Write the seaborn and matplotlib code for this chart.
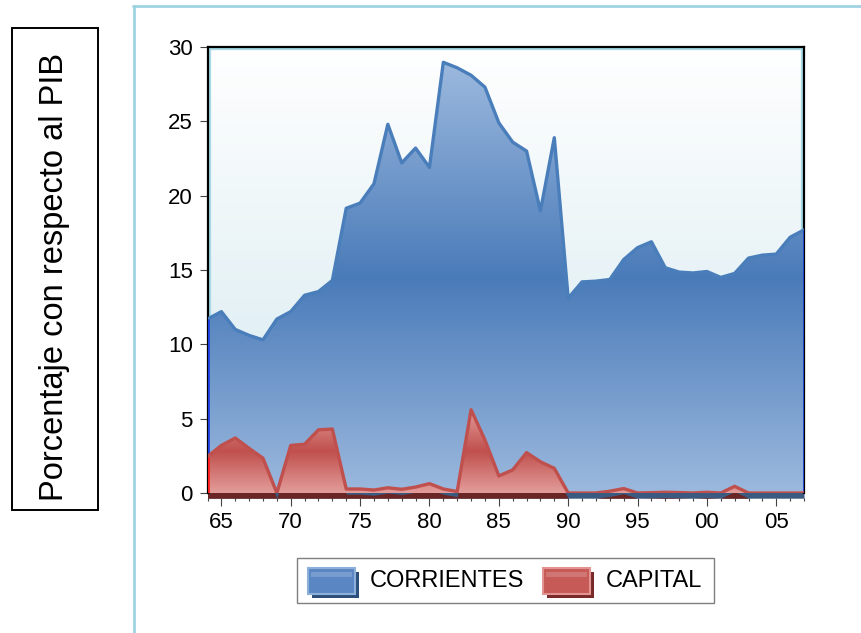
import numpy as np
import pandas as pd
import matplotlib
matplotlib.use("Agg")
import matplotlib.pyplot as plt
from matplotlib.colors import LinearSegmentedColormap
from matplotlib.patches import Rectangle
from matplotlib.lines import Line2D
from matplotlib import transforms
import seaborn as sns

# ---- data: public spending, % of GDP ----
years = list(range(1964, 2008))
corrientes = [11.7, 12.2, 11.0, 10.6, 10.3, 11.7, 12.2, 13.3, 13.55, 14.3,
              19.15, 19.5, 20.8, 24.8, 22.2, 23.2, 21.9, 28.97, 28.6, 28.1,
              27.3, 24.9, 23.6, 23.0, 18.97, 23.9, 13.1, 14.2, 14.25, 14.36,
              15.7, 16.5, 16.9, 15.15, 14.86, 14.8, 14.9, 14.5, 14.77, 15.8,
              16.0, 16.07, 17.2, 17.7]
capital = [2.45, 3.2, 3.7, 3.0, 2.34, 0.0, 3.2, 3.28, 4.25, 4.3,
           0.27, 0.27, 0.2, 0.35, 0.25, 0.4, 0.63, 0.27, 0.1, 5.6,
           3.57, 1.15, 1.55, 2.72, 2.1, 1.66, 0.0, 0.0, 0.0, 0.12,
           0.3, 0.0, 0.02, 0.05, 0.03, 0.0, 0.05, 0.0, 0.45, 0.0,
           0.0, 0.0, 0.0, 0.0]
series_names = ["CORRIENTES", "CAPITAL"]
xtick_years = list(range(1965, 2006, 5))
xtick_labels = ["65", "70", "75", "80", "85", "90", "95", "00", "05"]
yticks = [0, 5, 10, 15, 20, 25, 30]
ylabel_text = "Porcentaje con respecto al PIB"

sns.set_theme(style="white")
plt.rcParams['font.family'] = ['Liberation Sans', 'DejaVu Sans']

W, H = 861, 633
fig = plt.figure(figsize=(W / 100, H / 100), dpi=100)
fig.patch.set_facecolor('white')

L, R, T, B = 207.5, 804, 47, 493
ax = fig.add_axes([L / W, 1 - B / H, (R - L) / W, (B - T) / H])
ax.patch.set_facecolor('none')

x = np.array(years, dtype=float)
yc = np.array(corrientes)
yk = np.array(capital)

# plot-area background: white to pale cyan
bg_cmap = LinearSegmentedColormap.from_list('bg', ['#d3e8ef', '#ffffff'])
ax.imshow(np.linspace(0, 1, 256).reshape(-1, 1), cmap=bg_cmap,
          extent=[1964, 2007, 0, 30], origin='lower', aspect='auto',
          interpolation='bilinear', zorder=0)


def gradient_area(xv, yv, light, dark, z):
    poly = ax.fill_between(xv, yv, 0, facecolor='none', edgecolor='none', zorder=z)
    cmap = LinearSegmentedColormap.from_list('g', [light, dark, light])
    im = ax.imshow(np.linspace(0, 1, 256).reshape(-1, 1), cmap=cmap,
                   extent=[xv[0], xv[-1], 0, yv.max()], origin='lower',
                   aspect='auto', interpolation='bilinear', zorder=z)
    im.set_clip_path(poly.get_paths()[0], transform=ax.transData)


# depth strip under the baseline
dy = 0.35
for vals, col, z in [(yc, '#3b5a82', 2.0), (yk, '#6a2625', 2.1)]:
    sh = ax.fill_between(x, vals - dy, -dy, color=col, lw=0, zorder=z)
    sh.set_clip_path(Rectangle((1964, -dy), 43, dy, transform=ax.transData))

gradient_area(x, yc, '#9cb9de', '#4a7bb9', 3)
df_c = pd.DataFrame({"year": x, "value": yc})
sns.lineplot(data=df_c, x="year", y="value", color='#4a7ebb', lw=2.4,
             zorder=4, ax=ax, legend=False)
ax.vlines([1964], 0, yc[0], color='#2040e0', lw=2, zorder=4.5)
ax.vlines([2007], 0, yc[-1], color='#1c3cc8', lw=2, zorder=4.5)

gradient_area(x, yk, '#e39d9b', '#c0504d', 5)
df_k = pd.DataFrame({"year": x, "value": yk})
sns.lineplot(data=df_k, x="year", y="value", color='#c0504d', lw=2.4,
             zorder=6, ax=ax, legend=False)
ax.vlines([1964], 0, yk[0], color='#ff2020', lw=2, zorder=6.5)

ax.set_xlim(1964, 2007)
ax.set_ylim(0, 30)
ax.set_xlabel("")
ax.set_ylabel("")

ax.set_xticks(xtick_years)
ax.set_xticklabels(xtick_labels)
ax.set_xticks(years, minor=True)
ax.set_yticks(yticks)
ax.set_yticklabels([str(v) for v in yticks])
ax.tick_params(axis='x', which='major', bottom=True, length=5.8, width=0.8,
               color='#444444', pad=4, labelsize=16, labelcolor='black')
ax.tick_params(axis='x', which='minor', bottom=True, length=2.3, width=0.8,
               color='#444444')
ax.tick_params(axis='y', which='major', left=True, length=5.5, width=0.8,
               color='#444444', pad=5, labelsize=16, labelcolor='black')
ax.tick_params(axis='y', which='minor', left=False)

for side in ['left', 'top', 'right']:
    ax.spines[side].set_visible(True)
    ax.spines[side].set_color('black')
    ax.spines[side].set_linewidth(1.6)
    ax.spines[side].set_zorder(2.5)
ax.spines['bottom'].set_position(('outward', 3.8))
ax.spines['bottom'].set_color('none')

# thin cyan inner edge along the frame
cy = '#a6dbe6'
ax.add_line(Line2D([0, 1], [1, 1], color=cy, lw=1.6, zorder=1,
                   transform=transforms.offset_copy(ax.transAxes, fig=fig, x=0, y=-2.2, units='dots')))
ax.add_line(Line2D([0, 0], [0, 1], color=cy, lw=1.6, zorder=1,
                   transform=transforms.offset_copy(ax.transAxes, fig=fig, x=2.2, y=0, units='dots')))
ax.add_line(Line2D([1, 1], [0, 1], color=cy, lw=1.6, zorder=1,
                   transform=transforms.offset_copy(ax.transAxes, fig=fig, x=-2.2, y=0, units='dots')))

# ---- overlay in pixel coordinates: frame, y-title box, legend ----
ov = fig.add_axes([0, 0, 1, 1])
ov.set_xlim(0, W)
ov.set_ylim(H, 0)
ov.axis('off')
ov.patch.set_alpha(0)

frame_col = '#9fd3e2'
ov.add_line(Line2D([133, W], [6, 6], color=frame_col, lw=2.0))
ov.add_line(Line2D([134, 134], [6, H], color=frame_col, lw=2.0))

ov.add_patch(Rectangle((12, 28), 86, 482, facecolor='white', edgecolor='black', lw=1.4))
ov.text(55, 277, ylabel_text, rotation=90, ha='center', va='center',
        fontsize=23.5, color='black')

ov.add_patch(Rectangle((297, 558), 417, 45, facecolor='white', edgecolor='#7f7f7f', lw=1.0))
legend_items = [
    (series_names[0], 308, '#5a87c3', '#8db0da', '#2c4e7a', 370),
    (series_names[1], 543, '#c65a57', '#e29492', '#772a28', 606),
]
for name, px, face, edge, shadow, tx in legend_items:
    ov.add_patch(Rectangle((px + 4, 572), 47, 26, facecolor=shadow, edgecolor='none'))
    ov.add_patch(Rectangle((px, 568), 47, 26, facecolor=face, edgecolor=edge, lw=1.5))
    ov.add_patch(Rectangle((px + 3, 572), 41, 5, facecolor='white', alpha=0.18, edgecolor='none'))
    ov.text(tx, 581, name, ha='left', va='center', fontsize=17, color='black')

fig.savefig("out.png", dpi=100)
